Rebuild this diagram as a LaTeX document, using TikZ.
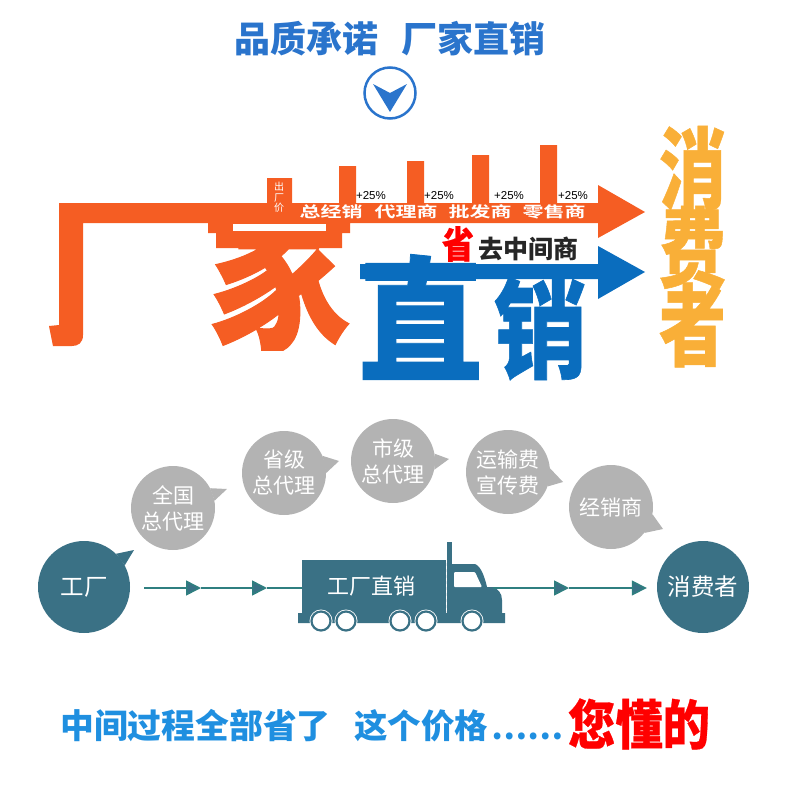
\documentclass[tikz,border=0pt]{standalone}
\usepackage{fontspec}
\usepackage{graphicx}
\setmainfont{Noto Sans CJK SC}
\newfontfamily\heavyfont[FakeBold=0.6]{Noto Sans CJK SC Black}
\newfontfamily\widefont[FakeStretch=1.4]{Noto Sans CJK SC Bold}
\newfontfamily\latinfont{Liberation Sans}
\usetikzlibrary{arrows.meta}
\definecolor{titleblue}{HTML}{2A74CC}
\definecolor{logoorange}{HTML}{F55D23}
\definecolor{logoblue}{HTML}{0A6DBE}
\definecolor{logoyellow}{HTML}{F9AF38}
\definecolor{bubblegray}{HTML}{B3B3B3}
\definecolor{truckteal}{HTML}{3A7185}
\definecolor{lineteal}{HTML}{2F7F80}
\definecolor{footblue}{HTML}{1F8FE0}
\newcommand{\fitglyph}[3]{\resizebox{#1pt}{#2pt}{\heavyfont #3}}
\begin{document}
\begin{tikzpicture}[x=1pt, y=-1pt,
    glyph/.style={inner sep=0pt, outer sep=0pt},
    bandlabel/.style={inner sep=0pt, text=white, font=\widefont\fontsize{15}{15}\selectfont},
    rise/.style={inner sep=0pt, font=\latinfont\fontsize{11.5}{12}\selectfont},
    bubble/.style={circle, fill=bubblegray, minimum size=84pt, inner sep=0pt, text=white, align=center, font=\fontsize{21}{26}\selectfont},
    endpoint/.style={circle, fill=truckteal, minimum size=92pt, inner sep=0pt, text=white, font=\fontsize{23.5}{26}\selectfont},
    flow/.style={draw=lineteal, line width=1.6pt, -{Triangle[length=15pt, width=15pt, fill=truckteal]}},
    wheel/.style={circle, draw=truckteal, fill=white, line width=2.2pt, minimum size=19pt, inner sep=0pt}
]
    \useasboundingbox (0,0) rectangle (790,800);

    % Title
    \node[inner sep=0pt, text=titleblue, font=\fontsize{36}{36}\selectfont\bfseries] (title) at (390,39) {品质承诺\hspace{24pt}厂家直销};
    \node[circle, draw=titleblue, line width=2.5pt, minimum size=51pt, inner sep=0pt] (down) at (390,93) {};
    \fill[titleblue] (373,84) -- (390,93) -- (407,84) -- (390,112) -- cycle;

    % Big characters
    \begin{scope}
        \clip (205,248) rectangle (355,350);
        \node[glyph, text=logoorange] (jia) at (279,268) {\fitglyph{144}{152}{家}};
    \end{scope}
    \node[glyph, text=logoblue] (zhi) at (420.5,317) {\fitglyph{125}{116}{直}};
    \node[glyph, text=logoblue] (xiao) at (540.5,328.5) {\fitglyph{93}{93}{销}};
    \node[glyph, text=logoyellow] (xiaofei) at (692.5,168) {\fitglyph{67}{76}{消}};
    \node[glyph, text=logoyellow] (feiyong) at (692.5,247.5) {\fitglyph{67}{75}{费}};
    \node[glyph, text=logoyellow] (zhe) at (692.5,325) {\fitglyph{67}{76}{者}};

    % Orange route with the price bars
    \fill[logoorange] (59,203) -- (267,203) -- (267,178) -- (292,178) -- (292,203)
        -- (339,203) -- (339,166) -- (356,166) -- (356,203)
        -- (407,203) -- (407,161) -- (424,161) -- (424,203)
        -- (472,203) -- (472,155) -- (489,155) -- (489,203)
        -- (540,203) -- (540,145) -- (557,145) -- (557,203)
        -- (598,203) -- (598,185) -- (645,212) -- (598,238) -- (598,223)
        -- (350,223) -- (350,233) -- (342,233) -- (342,248) -- (216,248) -- (216,233) -- (208,233) -- (208,223)
        -- (83,223) -- (83,335) .. controls (83,343) and (78,346) .. (72,346)
        -- (53,346) -- (49,326) -- (59,325) -- cycle;
    \fill[white] (233,224) rectangle (326,231);

    % Blue route
    \fill[logoblue] (360,264) -- (598,264) -- (598,246) -- (645,272) -- (598,299) -- (598,279) -- (360,279) -- cycle;

    % Labels on the orange route
    \node[inner sep=0pt, text=white, font=\fontsize{10}{10.5}\selectfont, align=center] (chuchang) at (279,197.5) {出\\厂\\价};
    \node[bandlabel] (zongjing) at (331,212) {总经销};
    \node[bandlabel] (daili) at (406,212) {代理商};
    \node[bandlabel] (pifa) at (480,212) {批发商};
    \node[bandlabel] (lingshou) at (554,212) {零售商};
    \node[rise] (riseA) at (371,196) {+25\%};
    \node[rise] (riseB) at (439,196) {+25\%};
    \node[rise] (riseC) at (509,196) {+25\%};
    \node[rise] (riseD) at (573,196) {+25\%};

    % Middlemen removed
    \node[glyph, text=red] (sheng) at (458,244) {\fitglyph{32}{32}{省}};
    \node[inner sep=0pt, text=black!85, font=\fontsize{25}{25}\selectfont\bfseries] (qu) at (528,249) {去中间商};

    % Speech bubbles
    \node[bubble] (quanguo) at (173,508) {全国\\总代理};
    \node[bubble] (shengji) at (284,473) {省级\\总代理};
    \node[bubble] (shiji) at (393,461) {市级\\总代理};
    \node[bubble] (yunshu) at (508,472) {运输费\\宣传费};
    \node[bubble] (jingxiao) at (611,507) {经销商};
    \fill[bubblegray] (quanguo.28) -- (227,489) -- (quanguo.10) -- cycle;
    \fill[bubblegray] (shengji.24) -- (339,461) -- (shengji.0) -- cycle;
    \fill[bubblegray] (shiji.10) -- (449,459) -- (shiji.-12) -- cycle;
    \fill[bubblegray] (yunshu.5) -- (563,482) -- (yunshu.-20) -- cycle;
    \fill[bubblegray] (jingxiao.-10) -- (663,529) -- (jingxiao.-38) -- cycle;

    % Factory and consumer
    \node[endpoint] (factory) at (84,587) {工厂};
    \node[endpoint] (consumer) at (703,587) {消费者};
    \fill[truckteal] (factory.46) -- (134,550) -- (factory.28) -- cycle;

    % Truck
    \fill[truckteal] (302,560) -- (446,560) -- (446,613) -- (452,613) -- (452,564) -- (475,564)
        .. controls (481,566) and (485,578) .. (487,587) -- (493,587)
        .. controls (498,589) and (502,593) .. (502,600) -- (502,613) -- (505,613) -- (505,623)
        -- (298,623) -- (298,613) -- (302,613) -- cycle;
    \fill[truckteal] (447,542) rectangle (452,613);
    \fill[white, rounded corners=1pt] (454,572) -- (475,572) -- (482,587) -- (454,587) -- cycle;
    \draw[white, line width=0.5pt, dashed] (446.5,560) -- (446.5,613);
    \node[inner sep=0pt, text=white, font=\fontsize{22}{22}\selectfont] (truck) at (371,586) {工厂直销};
    \coordinate (truckrear) at (302,588);
    \coordinate (truckfront) at (493,588);
    \fill[white] (321,621) circle (11.5) (346,621) circle (11.5) (400,621) circle (11.5) (426,621) circle (11.5) (472,621) circle (11.5);
    \foreach \wx/\wname in {321/wa,346/wb,400/wc,426/wd,472/we}
        \node[wheel] (\wname) at (\wx,621) {};

    % Route along the bottom
    \coordinate (start) at (144,588);
    \coordinate (headA) at (201,588);
    \coordinate (headB) at (267,588);
    \coordinate (headC) at (569,588);
    \draw[flow] (start) -- (headA);
    \draw[flow] (headA) -- (headB);
    \draw[draw=lineteal, line width=1.6pt] (headB) -- (truckrear);
    \draw[flow] (truckfront) -- (headC);
    \draw[flow, shorten >=10pt] (headC) -- (headC -| consumer.west);

    % Closing line
    \node[inner sep=0pt, text=footblue, font=\fontsize{33.8}{34}\selectfont\bfseries] (footA) at (195.5,726) {中间过程全部省了};
    \node[inner sep=0pt, text=footblue, font=\fontsize{33.5}{34}\selectfont\bfseries] (footB) at (421,726) {这个价格};
    \node[inner sep=0pt, text=footblue, font=\fontsize{32}{33}\selectfont\bfseries] (dots) at (527.5,736) {……};
    \node[inner sep=0pt, text=red, font=\heavyfont] (footC) at (639,724) {\resizebox{142pt}{46pt}{您懂的}};
\end{tikzpicture}
\end{document}
